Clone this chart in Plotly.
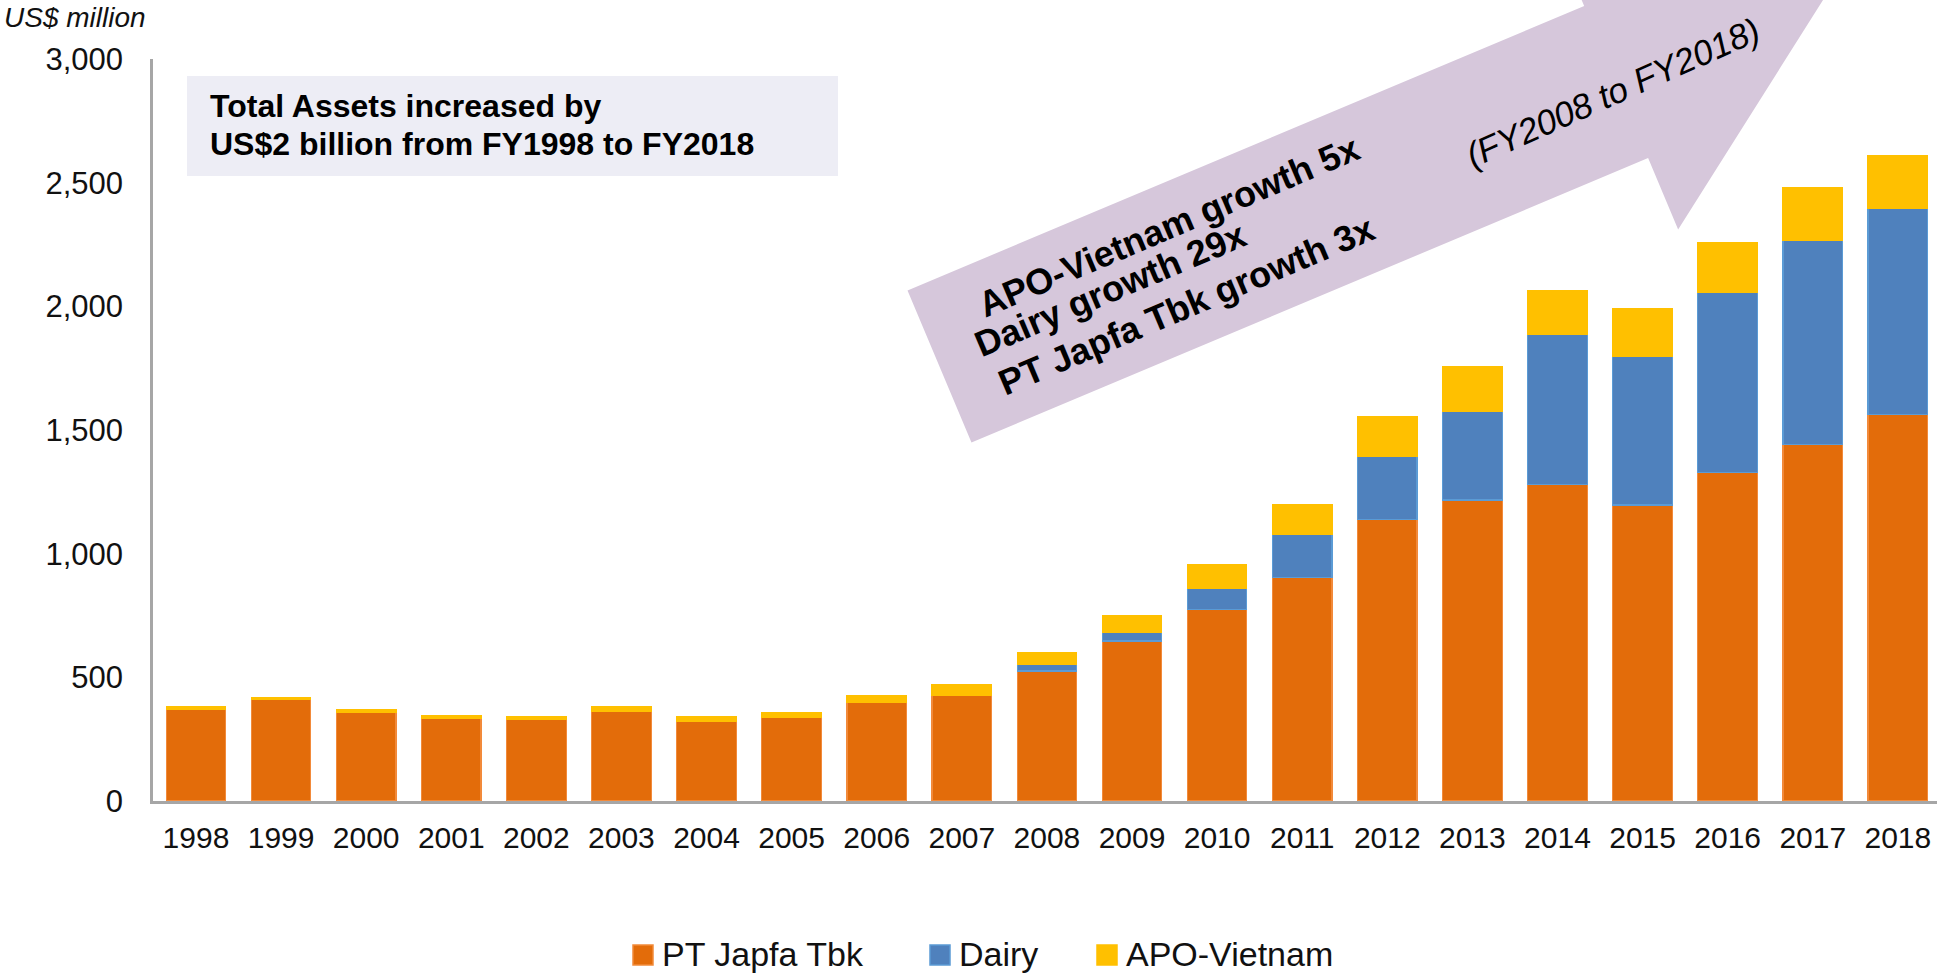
import math
import plotly.graph_objects as go

# ---------------- data ----------------
years = [str(y) for y in range(1998, 2019)]
pt_japfa = [371, 411, 358, 333, 329, 364, 321, 337, 397, 425, 526,
            647, 774, 904, 1138, 1217, 1279, 1197, 1328, 1442, 1564]
dairy = [None, None, None, None, None, None, None, None, None, None, 27,
         34, 85, 175, 257, 359, 606, 602, 730, 826, 832]
apo_vietnam = [12, 9, 12, 12, 13, 16, 19, 22, 29, 45, 48,
               67, 96, 121, 158, 181, 178, 193, 201, 211, 215]
series_names = ["PT Japfa Tbk", "Dairy", "APO-Vietnam"]
y_ticks = [0, 500, 1000, 1500, 2000, 2500, 3000]

# ---------------- layout geometry ----------------
W, H = 1937, 975
L, R, T, B = 153, 0, 59, 174
PW, PH = W - L - R, H - T - B
FONT = "Liberation Sans, Arial, sans-serif"


def px(x):
    return (x - L) / PW


def py(y):
    return (H - B - y) / PH


fig = go.Figure()
fill = ["#E36C0A", "#4F81BD", "#FFC000"]
edge = ["#F28A3A", "#5B9BD5", "#FFC000"]
for name, vals, c, e in zip(series_names, [pt_japfa, dairy, apo_vietnam], fill, edge):
    fig.add_trace(go.Bar(x=years, y=vals, name=name, showlegend=False,
                         marker=dict(color=c, line=dict(color=e, width=1.2))))

# ---------------- decorations ----------------
shapes = []
# text box
shapes.append(dict(type="rect", xref="paper", yref="paper",
                   x0=px(187), x1=px(838), y0=py(176), y1=py(76),
                   fillcolor="#EDEDF5", line=dict(width=0), layer="below"))

# big arrow
ang = math.radians(22.8)
ux, uy = math.cos(ang), -math.sin(ang)
nx, ny = math.sin(ang), math.cos(ang)
lx, ly = 939.5, 366.5
pts_an = [(0, -82.5), (734, -82.5), (734, -160), (963, 0),
          (734, 160), (734, 82.5), (0, 82.5)]
pts = [(lx + a * ux + b * nx, ly + a * uy + b * ny) for a, b in pts_an]
path = "M " + " L ".join(f"{px(x):.5f},{py(y):.5f}" for x, y in pts) + " Z"
shapes.append(dict(type="path", xref="paper", yref="paper", path=path,
                   fillcolor="#D6C7DB", line=dict(width=0), layer="below"))

ann = []
ann.append(dict(text="<i>US$ million</i>", xref="paper", yref="paper",
                x=px(2), y=py(17), xanchor="left", yanchor="middle",
                showarrow=False, font=dict(size=28, color="#111111", family=FONT)))
ann.append(dict(text="<b>Total Assets increased by</b>", xref="paper", yref="paper",
                x=px(208), y=py(106), xanchor="left", yanchor="middle",
                showarrow=False, font=dict(size=32, color="#000000", family=FONT)))
ann.append(dict(text="<b>US$2 billion from FY1998 to FY2018</b>", xref="paper", yref="paper",
                x=px(208), y=py(144), xanchor="left", yanchor="middle",
                showarrow=False, font=dict(size=32, color="#000000", family=FONT)))

arrow_lines = [("<b>APO-Vietnam growth 5x</b>", 1168, 226),
               ("<b>Dairy growth 29x</b>", 1110, 289),
               ("<b>PT Japfa Tbk growth 3x</b>", 1186, 305)]
for txt, cx, cy in arrow_lines:
    ann.append(dict(text=txt, xref="paper", yref="paper", x=px(cx), y=py(cy),
                    xanchor="center", yanchor="middle", textangle=-23,
                    showarrow=False, font=dict(size=36, color="#000000", family=FONT)))
ann.append(dict(text="<i>(FY2008 to FY2018)</i>", xref="paper", yref="paper",
                x=px(1612), y=py(92), xanchor="center", yanchor="middle", textangle=-24,
                showarrow=False, font=dict(size=35, color="#000000", family=FONT)))

# legend (squares + labels)
legend_x = [633, 930, 1097]
for name, c, e, lx0 in zip(series_names, fill, edge, legend_x):
    shapes.append(dict(type="rect", xref="paper", yref="paper",
                       x0=px(lx0), x1=px(lx0 + 20), y0=py(965), y1=py(945),
                       fillcolor=c, line=dict(color=e, width=1.5)))
    ann.append(dict(text=name, xref="paper", yref="paper", x=px(lx0 + 27), y=py(954),
                    xanchor="left", yanchor="middle", showarrow=False,
                    font=dict(size=34, color="#111111", family=FONT)))

fig.update_layout(
    width=W, height=H,
    margin=dict(l=L, r=R, t=T, b=B, pad=0, autoexpand=False),
    barmode="stack", bargap=0.3,
    paper_bgcolor="white", plot_bgcolor="rgba(0,0,0,0)",
    font=dict(family=FONT, color="#111111", size=29),
    shapes=shapes, annotations=ann,
    showlegend=False,
    xaxis=dict(type="category", range=[-0.505, 20.46], showline=True, automargin=False,
               linecolor="#A6A6A6", linewidth=2.5, ticks="", showgrid=False,
               tickfont=dict(size=30), ticklabelstandoff=8),
    yaxis=dict(range=[0, 3000], tickvals=y_ticks, tickformat=",", showline=True,
               automargin=False,
               linecolor="#A6A6A6", linewidth=2.5, ticks="", showgrid=False,
               zeroline=False, tickfont=dict(size=31), ticklabelstandoff=21),
)

fig.write_html("out.html", config={"displayModeBar": False},
               post_script="document.body.style.margin='0';document.body.style.padding='0';")
